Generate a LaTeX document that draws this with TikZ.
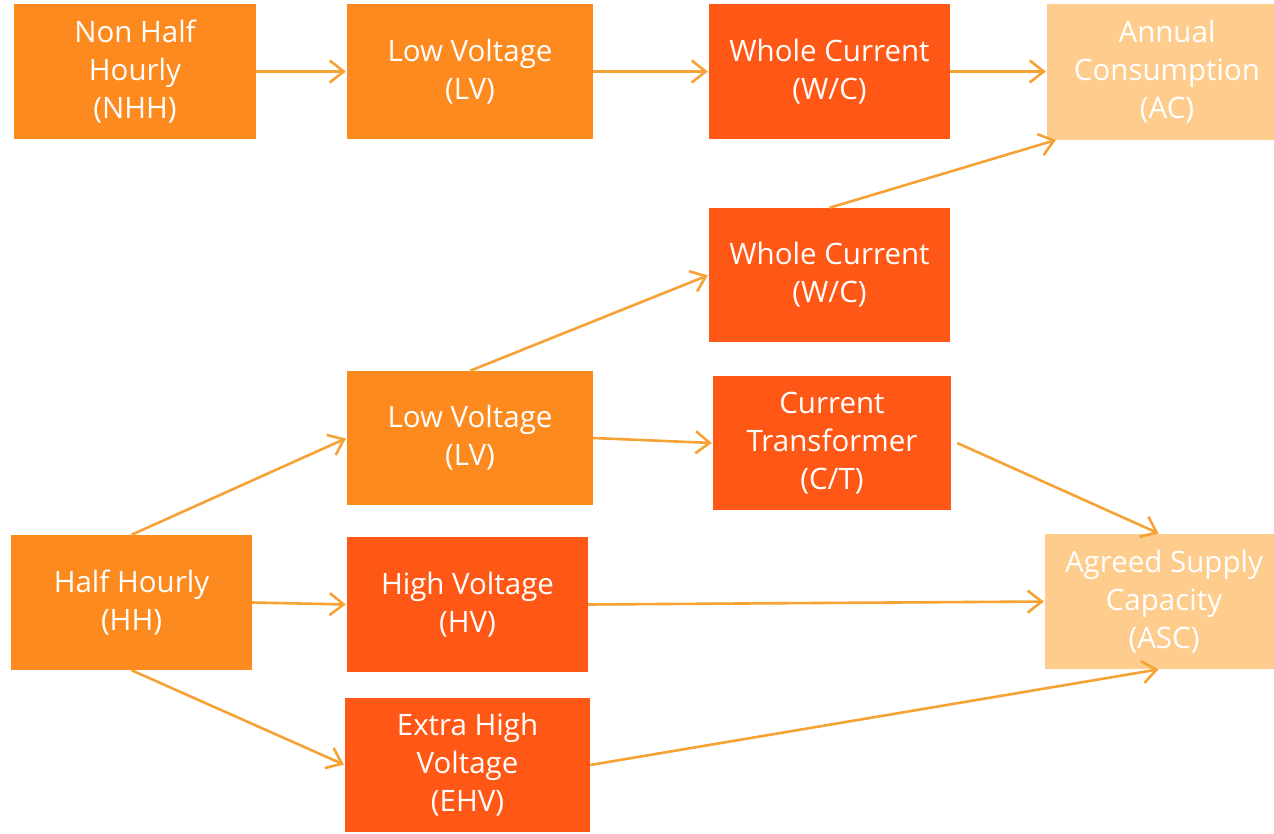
\documentclass[tikz,border=0pt]{standalone}
\usepackage{fontspec}
\setmainfont{Open Sans}
\usetikzlibrary{arrows.meta,calc}
\definecolor{midor}{RGB}{253,138,30}
\definecolor{darkor}{RGB}{255,88,22}
\definecolor{lightor}{RGB}{254,204,140}
\definecolor{arrowor}{RGB}{246,162,52}
\tikzset{
  box/.style={inner sep=0pt, align=center, text=white, font=\fontsize{29.5}{38}\selectfont},
  conn/.style={draw=arrowor, line width=2.6pt, -{Straight Barb[length=14pt,width=22pt,line width=2.6pt]}, shorten >=1pt}
}
\begin{document}
\begin{tikzpicture}[x=1pt,y=-1pt]
\useasboundingbox (0,0) rectangle (1274,833);
% top row
\node[box, fill=midor, minimum width=242pt, minimum height=135pt] (nhh) at (135,71.5) {Non Half\\Hourly\\(NHH)};
\node[box, fill=midor, minimum width=246pt, minimum height=135pt] (lv1) at (470,71.5) {Low Voltage\\(LV)};
\node[box, fill=darkor, minimum width=241pt, minimum height=135pt] (wc1) at (829.5,71.5) {Whole Current\\(W/C)};
\node[box, fill=lightor, minimum width=227pt, minimum height=136pt] (ac) at (1160.5,71.5) {};
\node[box] (actext) at (1167,71.5) {Annual\\Consumption\\(AC)};
% middle
\node[box, fill=darkor, minimum width=241pt, minimum height=134pt] (wc2) at (829.5,275) {Whole Current\\(W/C)};
\node[box, fill=midor, minimum width=246pt, minimum height=134pt] (lv2) at (470,438) {Low Voltage\\(LV)};
\node[box, fill=darkor, minimum width=238pt, minimum height=134pt] (ct) at (832,443) {Current\\Transformer\\(C/T)};
% bottom
\node[box, fill=midor, minimum width=241pt, minimum height=135pt] (hh) at (131.5,602.5) {Half Hourly\\(HH)};
\node[box, fill=darkor, minimum width=241pt, minimum height=135pt] (hv) at (467.5,604.5) {High Voltage\\(HV)};
\node[box, fill=lightor, minimum width=229pt, minimum height=135pt] (asc) at (1159.5,601.5) {};
\node[box] (asctext) at (1164,601.5) {Agreed Supply\\Capacity\\(ASC)};
\node[box, fill=darkor, minimum width=245pt, minimum height=134pt] (ehv) at (467.5,765) {Extra High\\Voltage\\(EHV)};
% connectors
\draw[conn] (nhh.east) -- (lv1.west);
\draw[conn] (lv1.east) -- (wc1.west);
\draw[conn] (wc1.east) -- (ac.west);
\draw[conn] (wc2.north) -- ($(ac.south west)+(10,0)$);
\draw[conn] (lv2.north) -- (wc2.west);
\draw[conn] (hh.north) -- (lv2.west);
\draw[conn] (lv2.east) -- (ct.west);
\draw[conn] ($(ct.east)+(6,0)$) -- (asc.north);
\draw[conn] (hh.east) -- (hv.west);
\draw[conn] (hv.east) -- (asc.west);
\draw[conn] (hh.south) -- (ehv.west);
\draw[conn] (ehv.east) -- (asc.south);
\end{tikzpicture}
\end{document}
